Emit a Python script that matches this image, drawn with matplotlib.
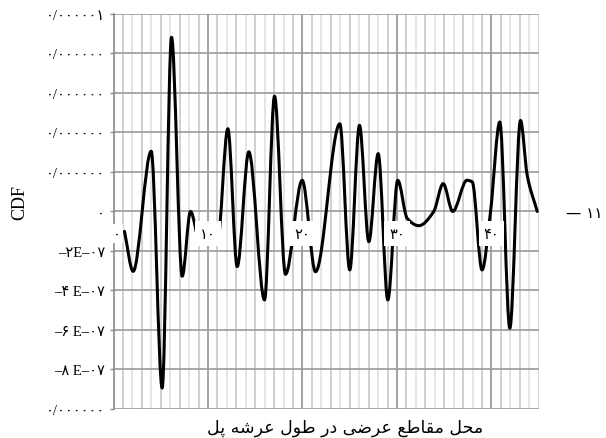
import numpy as np
import matplotlib
matplotlib.use("Agg")
import matplotlib.pyplot as plt
from matplotlib.path import Path
from matplotlib.patches import PathPatch

# ---- data -------------------------------------------------------------
# position along the deck (section index) and CDF value (in units of 1e-7)
section_pos = [1.16, 2.08, 3.99, 5.15, 6.14, 7.27, 8.15, 9.10, 9.95, 11.0,
               12.1, 13.09, 14.32, 15.98, 17.04, 18.2, 19.97, 21.38, 23.95, 25.0,
               26.03, 27.02, 28.01, 29.03, 30.08, 31.08, 32.3, 33.89, 34.89, 35.9,
               37.4, 37.96, 39.0, 39.9, 40.88, 41.94, 43.07, 43.78, 44.84]
cdf_e7 = [-1.01, -3.03, 3.05, -8.94, 8.82, -3.28, 0.0, -1.5, -1.6, -1.55,
          4.19, -2.79, 3.02, -4.48, 5.84, -3.18, 1.58, -3.05, 4.44, -2.96,
          4.36, -1.53, 2.93, -4.48, 1.58, -0.35, -0.72, 0.0, 1.41, 0.0,
          1.58, 1.5, -2.96, 0.0, 4.53, -5.91, 4.61, 1.83, 0.0]

y_ticks = [-1e-6, -8e-7, -6e-7, -4e-7, -2e-7, 0, 2e-7, 4e-7, 6e-7, 8e-7, 1e-6]
y_tick_labels = ["۰/۰۰۰۰۰۰", "–۸ E–۰۷", "–۶ E–۰۷", "–۴ E–۰۷", "–۲E–۰۷", "۰",
                 "۰/۰۰۰۰۰۰", "۰/۰۰۰۰۰۰", "۰/۰۰۰۰۰۰", "۰/۰۰۰۰۰۰", "۰/۰۰۰۰۰۱"]
x_label_pos = [0, 10, 20, 30, 40]
x_labels = ["۰", "۱۰", "۲۰", "۳۰", "۴۰"]
x_axis_title = "محل مقاطع عرضی در طول عرشه پل"
y_axis_title = "CDF"
side_note = "— ۱۱"

# ---- Persian contextual shaping (presentation forms, visual order) -----
FORMS = {
    'ا': ('\uFE8D', '\uFE8E', None, None),
    'د': ('\uFEA9', '\uFEAA', None, None),
    'ر': ('\uFEAD', '\uFEAE', None, None),
    'و': ('\uFEED', '\uFEEE', None, None),
    'ح': ('\uFEA1', '\uFEA2', '\uFEA3', '\uFEA4'),
    'ش': ('\uFEB5', '\uFEB6', '\uFEB7', '\uFEB8'),
    'ض': ('\uFEBD', '\uFEBE', '\uFEBF', '\uFEC0'),
    'ط': ('\uFEC1', '\uFEC2', '\uFEC3', '\uFEC4'),
    'ع': ('\uFEC9', '\uFECA', '\uFECB', '\uFECC'),
    'ق': ('\uFED5', '\uFED6', '\uFED7', '\uFED8'),
    'ل': ('\uFEDD', '\uFEDE', '\uFEDF', '\uFEE0'),
    'م': ('\uFEE1', '\uFEE2', '\uFEE3', '\uFEE4'),
    'ه': ('\uFEE9', '\uFEEA', '\uFEEB', '\uFEEC'),
    'ی': ('\uFBFC', '\uFBFD', '\uFBFE', '\uFBFF'),
    'پ': ('\uFB56', '\uFB57', '\uFB58', '\uFB59'),
}


def shape_fa(text):
    out = []
    n = len(text)
    for i, ch in enumerate(text):
        f = FORMS.get(ch)
        if f is None:
            out.append(ch)
            continue
        prev = text[i - 1] if i > 0 else None
        nxt = text[i + 1] if i < n - 1 else None
        jp = prev in FORMS and FORMS[prev][2] is not None
        jn = f[2] is not None and nxt in FORMS
        if jp and jn:
            out.append(f[3])
        elif jp:
            out.append(f[1])
        elif jn:
            out.append(f[2])
        else:
            out.append(f[0])
    return ''.join(reversed(out))


# ---- smooth monotone (PCHIP-style) bezier path through the points -------
def smooth_path(xs, ys):
    xs = np.asarray(xs, float)
    ys = np.asarray(ys, float)
    h = np.diff(xs)
    delta = np.diff(ys) / h
    d = np.zeros_like(ys)
    d[0], d[-1] = delta[0], delta[-1]
    for k in range(1, len(xs) - 1):
        if delta[k - 1] * delta[k] <= 0:
            d[k] = 0.0
        else:
            w1 = 2 * h[k] + h[k - 1]
            w2 = h[k] + 2 * h[k - 1]
            d[k] = (w1 + w2) / (w1 / delta[k - 1] + w2 / delta[k])
    verts = [(xs[0], ys[0])]
    codes = [Path.MOVETO]
    for k in range(len(xs) - 1):
        hk = h[k]
        verts += [(xs[k] + hk / 3, ys[k] + d[k] * hk / 3),
                  (xs[k + 1] - hk / 3, ys[k + 1] - d[k + 1] * hk / 3),
                  (xs[k + 1], ys[k + 1])]
        codes += [Path.CURVE4] * 3
    return Path(verts, codes)


# ---- figure -----------------------------------------------------------
fig = plt.figure(figsize=(6.06, 4.39), dpi=100)
ax = fig.add_axes([0.1873, 0.0661, 0.7017, 0.8998])
ax.set_xlim(0, 45)
ax.set_ylim(-1e-6, 1e-6)

# vertical grid: light lines every section, darker every ten
for i in range(1, 45):
    if i % 10 == 0:
        ax.axvline(i, color="#8a8a8a", lw=1.1, zorder=1)
    else:
        ax.axvline(i, color="#c8c8c8" if i % 2 else "#e0e0e0", lw=1.2, zorder=0.5)
ax.axvline(45, color="#d0d0d0", lw=1.2, zorder=1)
for v in y_ticks:
    ax.axhline(v, color="#9a9a9a", lw=1.2, zorder=1)

ys = [v * 1e-7 for v in cdf_e7]
ax.add_patch(PathPatch(smooth_path(section_pos, ys), facecolor="none",
                       edgecolor="black", lw=2.2, zorder=3, capstyle="round",
                       joinstyle="round"))

for s in ["top", "bottom", "right"]:
    ax.spines[s].set_visible(False)
ax.spines["left"].set_color("#8a8a8a")
ax.spines["left"].set_linewidth(1.2)

ax.set_xticks([])
ax.set_yticks(y_ticks)
ax.set_yticklabels(y_tick_labels, family=["Liberation Serif", "DejaVu Sans"],
                   fontsize=10.5)
ax.tick_params(axis="y", length=3, width=1, color="#8a8a8a", pad=3)

for xp, lab in zip(x_label_pos, x_labels):
    ax.text(xp + (0.35 if xp == 0 else 0), -1.1e-7, lab, ha="center",
            va="center", fontsize=10.5, family=["DejaVu Sans"], zorder=4,
            bbox=dict(facecolor="white", edgecolor="none",
                      pad=1.5 if xp == 0 else 3.5))

fig.text(20 / 606, 1 - 203 / 439, y_axis_title, rotation=90, ha="center",
         va="center", fontsize=13, family=["Liberation Serif"])
fig.text(345 / 606, 1 - 428 / 439, shape_fa(x_axis_title), ha="center",
         va="center", fontsize=12.5, family=["DejaVu Sans"])
fig.text(566 / 606, 1 - 213 / 439, side_note, ha="left", va="center",
         fontsize=11, family=["DejaVu Sans"])

fig.savefig("out.png", dpi=100)
